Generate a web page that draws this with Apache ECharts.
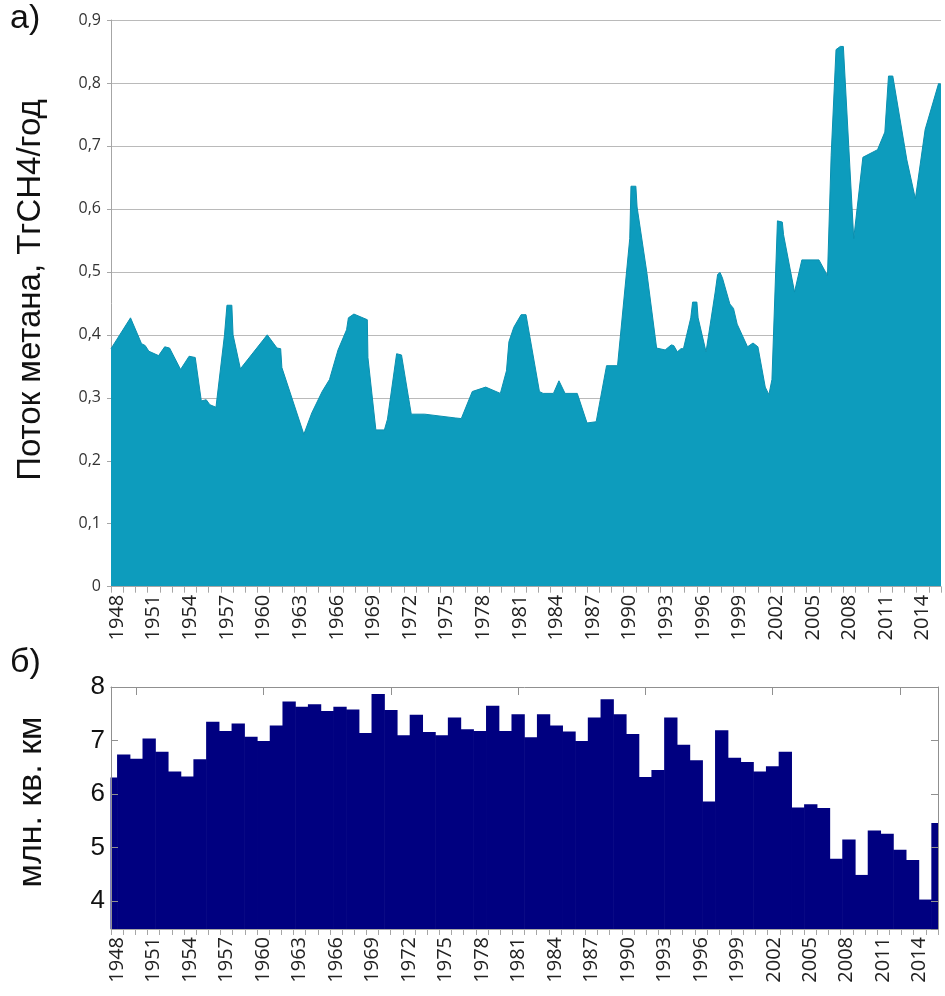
<!DOCTYPE html>
<html>
<head>
<meta charset="utf-8">
<script src="https://cdn.jsdelivr.net/npm/echarts@6/dist/echarts.min.js"></script>
<style>
html,body{margin:0;padding:0;background:#fff;}
#chart{width:945px;height:996px;}
</style>
</head>
<body>
<div id="chart"></div>
<script>
// ---- Data ----
// Category labels (years) used for the tick/label axes of both panels
const yearCategories = [];
for (let y = 1948; y <= 2015; y++) yearCategories.push(String(y));

// Panel a): methane flux, x = fractional year, y = Tg CH4 / year
const methaneTime = [
  1948.0, 1949.6, 1950.5, 1950.8, 1951.1, 1951.9, 1952.4, 1952.8, 1953.7, 1954.4,
  1954.9, 1955.4, 1955.8, 1956.1, 1956.6, 1957.3, 1957.5, 1957.9, 1958.0, 1958.6,
  1960.8, 1961.6, 1961.9, 1962.0, 1963.8, 1964.45, 1965.3, 1965.9, 1966.6, 1967.3,
  1967.45, 1967.9, 1969.0, 1969.05, 1969.7, 1970.4, 1970.65, 1971.4, 1971.8, 1972.6,
  1973.7, 1976.2, 1976.7, 1977.6, 1978.7, 1979.9, 1980.4, 1980.6, 1981.0, 1981.6,
  1982.0, 1983.1, 1983.4, 1984.25, 1984.7, 1985.2, 1986.2, 1987.0, 1987.75, 1988.6,
  1989.5, 1990.5, 1990.6, 1991.0, 1991.1, 1991.9, 1992.7, 1993.4, 1993.9, 1994.1,
  1994.4, 1994.7, 1994.9, 1995.5, 1995.65, 1996.0, 1996.1, 1996.75, 1997.5, 1997.7,
  1997.9, 1998.1, 1998.7, 1999.0, 1999.3, 2000.15, 2000.6, 2001.0, 2001.6, 2001.9,
  2002.15, 2002.6, 2003.0, 2003.1, 2004.0, 2004.6, 2006.0, 2006.7, 2007.0, 2007.4,
  2007.75, 2008.0, 2008.85, 2009.6, 2010.8, 2011.4, 2011.7, 2012.05, 2013.2, 2013.9,
  2014.7, 2015.8, 2016.0
];
const methaneFlux = [
  0.378, 0.427, 0.386, 0.383, 0.374, 0.367, 0.381, 0.379, 0.345, 0.366,
  0.364, 0.295, 0.297, 0.289, 0.285, 0.400, 0.447, 0.447, 0.400, 0.346,
  0.400, 0.379, 0.378, 0.348, 0.242, 0.276, 0.310, 0.329, 0.376, 0.408,
  0.427, 0.433, 0.424, 0.364, 0.249, 0.249, 0.266, 0.370, 0.368, 0.274,
  0.274, 0.268, 0.267, 0.310, 0.317, 0.307, 0.343, 0.389, 0.412, 0.432,
  0.432, 0.310, 0.307, 0.307, 0.327, 0.307, 0.307, 0.260, 0.262, 0.351,
  0.351, 0.553, 0.636, 0.636, 0.603, 0.499, 0.379, 0.376, 0.384, 0.383,
  0.373, 0.378, 0.378, 0.427, 0.452, 0.452, 0.427, 0.373, 0.468, 0.496,
  0.499, 0.490, 0.449, 0.442, 0.417, 0.381, 0.387, 0.381, 0.317, 0.305,
  0.329, 0.581, 0.579, 0.559, 0.468, 0.519, 0.519, 0.494, 0.685, 0.853,
  0.858, 0.858, 0.553, 0.682, 0.694, 0.722, 0.811, 0.811, 0.678, 0.616,
  0.726, 0.799, 0.798
];

// Panel б): sea-ice extent, million sq. km, one bar per year 1948..2013
const iceYears = [];
for (let y = 1948; y <= 2013; y++) iceYears.push(y);
const iceExtent = [
  6.31, 6.74, 6.66, 7.04, 6.79, 6.42, 6.33, 6.65, 7.35, 7.18,
  7.32, 7.07, 6.99, 7.28, 7.73, 7.63, 7.68, 7.55, 7.63, 7.58,
  7.14, 7.87, 7.57, 7.10, 7.48, 7.16, 7.10, 7.43, 7.21, 7.18,
  7.65, 7.18, 7.49, 7.06, 7.49, 7.28, 7.17, 6.99, 7.43, 7.77,
  7.49, 7.12, 6.32, 6.45, 7.43, 6.92, 6.63, 5.86, 7.19, 6.68,
  6.60, 6.42, 6.52, 6.79, 5.75, 5.81, 5.74, 4.79, 5.15, 4.49,
  5.32, 5.26, 4.96, 4.77, 4.03, 5.46
];

// ---- Layout / style ----
const W = 945, H = 996;
const gridTop = {left: 111, right: 4, top: 20, height: 566.7};
const gridBot = {left: 111, right: 7, top: 687, height: 242};
const botInnerWidth = W - gridBot.left - gridBot.right;
const barPx = botInnerWidth / (iceYears[iceYears.length - 1] - iceYears[0]);

const areaColor = '#0d9cbd';
const barColor = '#000080';
const gridGray = '#bababa';
const axisGray = '#a6a6a6';
const frameGray = '#909090';
const labelFont = 'Open Sans';
const titleFont = 'Liberation Sans';

const catAxisCommon = {
  type: 'category',
  data: yearCategories,
  position: 'bottom',
  boundaryGap: true,
  z: 60,
  axisLine: {show: true, lineStyle: {color: axisGray, width: 1}},
  axisTick: {show: true, interval: 0, length: 6, alignWithLabel: false, lineStyle: {color: axisGray}},
  axisLabel: {interval: 2, rotate: 90, fontSize: 20, fontFamily: labelFont, color: '#222', margin: 8},
  splitLine: {show: false}
};

const option = {
  animation: false,
  backgroundColor: '#ffffff',
  grid: [
    {left: gridTop.left, right: gridTop.right, top: gridTop.top, height: gridTop.height, containLabel: false},
    {left: gridBot.left, right: gridBot.right, top: gridBot.top, height: gridBot.height, containLabel: false}
  ],
  xAxis: [
    Object.assign({gridIndex: 0}, catAxisCommon),
    {type: 'value', gridIndex: 0, min: 1948, max: 2016, position: 'top', show: false},
    Object.assign({gridIndex: 1}, catAxisCommon),
    {
      type: 'value', gridIndex: 1, min: iceYears[0], max: iceYears[iceYears.length - 1],
      position: 'top', splitNumber: 6, z: 60,
      axisLine: {show: true, lineStyle: {color: frameGray}},
      axisTick: {show: true, inside: true, length: 8, lineStyle: {color: frameGray}},
      axisLabel: {show: false},
      splitLine: {show: false}
    }
  ],
  yAxis: [
    {
      type: 'value', gridIndex: 0, min: 0, max: 0.9, interval: 0.1,
      axisLine: {show: true, lineStyle: {color: axisGray}},
      axisTick: {show: true, length: 4, lineStyle: {color: axisGray}},
      axisLabel: {
        fontSize: 16, fontFamily: labelFont, color: '#333', margin: 10,
        formatter: v => (Math.abs(v) < 1e-9 ? '0' : v.toFixed(1).replace('.', ','))
      },
      splitLine: {show: true, lineStyle: {color: gridGray, width: 1}}
    },
    {
      type: 'value', gridIndex: 1, min: 3.48, max: 8, splitNumber: 5, position: 'left', z: 60,
      axisLine: {show: true, lineStyle: {color: frameGray}},
      axisTick: {show: true, inside: true, length: 7, lineStyle: {color: frameGray}},
      axisLabel: {fontSize: 26, fontFamily: titleFont, color: '#111', margin: 6, showMinLabel: false},
      splitLine: {show: false}
    },
    {
      type: 'value', gridIndex: 1, min: 3.48, max: 8, splitNumber: 5, position: 'right', z: 60,
      axisLine: {show: true, lineStyle: {color: frameGray}},
      axisTick: {show: true, inside: true, length: 7, lineStyle: {color: frameGray}},
      axisLabel: {show: false},
      splitLine: {show: false}
    }
  ],
  series: [
    {
      type: 'line',
      xAxisIndex: 1, yAxisIndex: 0,
      data: methaneTime.map((t, i) => [t, methaneFlux[i]]),
      symbol: 'none',
      smooth: false,
      lineStyle: {color: '#0a90b0', width: 1},
      areaStyle: {color: areaColor, opacity: 1},
      z: 3
    },
    {
      type: 'bar',
      xAxisIndex: 3, yAxisIndex: 1,
      data: iceYears.map((y, i) => [y, iceExtent[i]]),
      barWidth: barPx + 0.6,
      itemStyle: {color: barColor},
      clip: true,
      z: 2
    }
  ],
  graphic: [
    // white masks trimming the half-bars that spill past the plot frame
    {type: 'rect', z: 50, silent: true,
     shape: {x: gridBot.left - 12, y: gridBot.top - 2, width: 11.5, height: gridBot.height + 8},
     style: {fill: '#ffffff'}},
    {type: 'rect', z: 50, silent: true,
     shape: {x: W - gridBot.right + 0.5, y: gridBot.top - 2, width: 12, height: gridBot.height + 8},
     style: {fill: '#ffffff'}},
    {type: 'text', left: 10, top: 2, z: 70, style: {text: 'а)', font: '34px "Liberation Sans"', fill: '#111'}},
    {type: 'text', left: 10, top: 646, z: 70, style: {text: 'б)', font: '34px "Liberation Sans"', fill: '#111'}},
    {type: 'text', x: 31, y: 290, rotation: Math.PI / 2, z: 70,
     style: {text: 'Поток метана, ТгCH4/год', font: '33px "Liberation Sans"', fill: '#111', align: 'center', verticalAlign: 'middle'}},
    {type: 'text', x: 32, y: 802, rotation: Math.PI / 2, z: 70,
     style: {text: 'млн. кв. км', font: '34px "Liberation Sans"', fill: '#111', align: 'center', verticalAlign: 'middle'}}
  ]
};

const chart = echarts.init(document.getElementById('chart'), null, {renderer: 'canvas', width: W, height: H});
chart.setOption(option);
</script>
</body>
</html>
